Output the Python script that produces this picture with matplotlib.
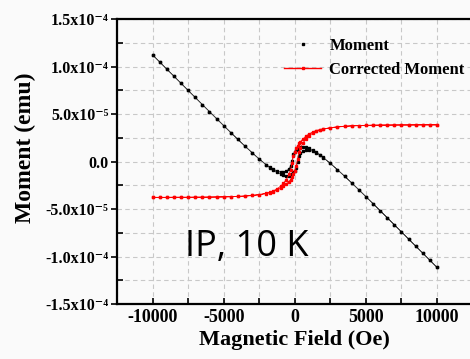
import matplotlib.pyplot as plt
import numpy as np

# field sweep, descending branch (Oe)
field_down = [10000, 9500, 9000, 8500, 8000, 7500, 7000, 6500, 6000, 5500, 5000,
              4500, 4000, 3500, 3000, 2500, 2000, 1750, 1500, 1250, 1000, 800,
              600, 400, 300, 200, 100, 0, -100, -200, -300, -400, -600, -800,
              -1000, -1250, -1500, -1750, -2000, -2500, -3000, -3500, -4000,
              -4500, -5000, -5500, -6000, -6500, -7000, -7500, -8000, -8500,
              -9000, -9500, -10000]
field_up = field_down[::-1]

# raw moment (1e-5 emu)
moment_down = [-11.14, -10.39, -9.64, -8.90, -8.15, -7.40, -6.66, -5.91, -5.17,
               -4.43, -3.70, -2.97, -2.25, -1.55, -0.86, -0.20, 0.43, 0.74, 1.00,
               1.23, 1.40, 1.50, 1.50, 1.50, 1.45, 1.35, 1.25, 1.05, 0.75, 0.10,
               -0.45, -0.75, -1.00, -1.10, -1.10, -1.00, -0.83, -0.60, -0.33,
               0.27, 0.93, 1.62, 2.33, 3.05, 3.78, 4.52, 5.26, 6.00, 6.75, 7.49,
               8.24, 8.99, 9.73, 10.48, 11.23]
moment_up = [11.23, 10.48, 9.73, 8.99, 8.24, 7.49, 6.75, 6.00, 5.26, 4.52, 3.78,
             3.05, 2.33, 1.62, 0.93, 0.26, -0.37, -0.66, -0.91, -1.13, -1.30,
             -1.40, -1.48, -1.50, -1.45, -1.32, -1.15, -0.95, -0.65, 0.00, 0.55,
             0.85, 1.10, 1.20, 1.20, 1.11, 0.92, 0.69, 0.41, -0.19, -0.85, -1.53,
             -2.24, -2.96, -3.69, -4.42, -5.16, -5.91, -6.65, -7.40, -8.15,
             -8.89, -9.64, -10.39, -11.14]

# corrected moment (1e-5 emu)
corr_down = [3.86, 3.86, 3.86, 3.85, 3.85, 3.85, 3.84, 3.84, 3.83, 3.82, 3.80,
             3.78, 3.75, 3.70, 3.64, 3.55, 3.43, 3.36, 3.25, 3.10, 2.90, 2.70,
             2.40, 2.10, 1.90, 1.65, 1.40, 1.05, 0.60, -0.20, -0.90, -1.35,
             -1.90, -2.30, -2.60, -2.88, -3.08, -3.22, -3.33, -3.48, -3.57,
             -3.63, -3.67, -3.70, -3.72, -3.73, -3.74, -3.75, -3.75, -3.76,
             -3.76, -3.76, -3.77, -3.77, -3.77]
corr_up = [-3.77, -3.77, -3.77, -3.76, -3.76, -3.76, -3.75, -3.75, -3.74, -3.73,
           -3.72, -3.70, -3.67, -3.63, -3.57, -3.49, -3.37, -3.28, -3.16, -3.00,
           -2.80, -2.60, -2.38, -2.10, -1.90, -1.62, -1.30, -0.95, -0.50, 0.30,
           1.00, 1.45, 2.00, 2.40, 2.70, 2.98, 3.17, 3.31, 3.41, 3.56, 3.65,
           3.72, 3.76, 3.79, 3.81, 3.83, 3.84, 3.84, 3.85, 3.85, 3.85, 3.86,
           3.86, 3.86, 3.86]

x_ticks = [-10000, -5000, 0, 5000, 10000]
y_ticks = [-1.5e-4, -1e-4, -5e-5, 0, 5e-5, 1e-4, 1.5e-4]
y_labels = ['-1.5x10\u207b\u2074', '-1.0x10\u207b\u2074', '-5.0x10\u207b\u2075', '0.0',
            '5.0x10\u207b\u2075', '1.0x10\u207b\u2074', '1.5x10\u207b\u2074']

x = np.array(field_down + field_up)
m_raw = np.array(moment_down + moment_up) * 1e-5
m_corr = np.array(corr_down + corr_up) * 1e-5

fig = plt.figure(figsize=(4.70, 3.59), dpi=100, facecolor='#fafafa')
ax = fig.add_axes([0.249, 0.153, 0.7564, 0.794], facecolor='#fafafa')

ax.plot(x, m_raw, color='#404040', linewidth=0.5, marker='s', markersize=1.5,
        markerfacecolor='black', markeredgecolor='black', zorder=3)
ax.plot(x, m_corr, color='red', linewidth=0.6, marker='s', markersize=1.5,
        markerfacecolor='red', markeredgecolor='red', zorder=4)

# legend handles
h1, = ax.plot([], [], linestyle='none', marker='s', markersize=1.5, color='black',
              label='Moment')
h2, = ax.plot([], [], color='red', linewidth=1.0, marker='s', markersize=1.5,
              label='Corrected Moment')
ax.legend(handles=[h1, h2], loc='upper right', bbox_to_anchor=(1.02, 0.985),
          frameon=False, handlelength=2.2, handletextpad=0.5, labelspacing=0.45,
          prop={'family': 'Liberation Serif', 'weight': 'bold', 'size': 12})

ax.set_xlim(-12500, 12500)
ax.set_ylim(-1.5e-4, 1.5e-4)
ax.tick_params(axis='x', which='both', direction='in', length=4, width=1.2)
ax.tick_params(axis='y', which='major', direction='out', length=4, width=1.2, pad=2)
ax.tick_params(axis='y', which='minor', direction='in', length=4, width=1.2)

ax.set_xticks(x_ticks)
ax.set_xticklabels([str(v) for v in x_ticks], family='Liberation Serif',
                   weight='bold', size=13)
ax.set_xticks(np.arange(-12500, 12501, 2500), minor=True)
ax.set_yticks(y_ticks)
ax.set_yticklabels(y_labels, family=['Liberation Serif', 'DejaVu Serif'],
                   weight='bold', size=11.5)
ax.set_yticks(np.arange(-1.5e-4, 1.51e-4, 2.5e-5), minor=True)

ax.grid(True, which='both', color='#c8c8c8', linestyle=(0, (4, 3)), linewidth=0.8)
ax.set_axisbelow(True)

for s in ax.spines.values():
    s.set_linewidth(1.6)

ax.set_xlabel('Magnetic Field (Oe)', family='Liberation Serif', weight='bold',
              size=16, labelpad=3)
ax.set_ylabel('Moment (emu)', family='Liberation Serif', weight='bold', size=17)
ax.yaxis.set_label_coords(-0.228, 0.55)

ax.text(-7750, -9.9e-5, 'IP, 10 K', family='Open Sans', size=26, color='black')

fig.savefig('out.png', dpi=100, facecolor=fig.get_facecolor())
